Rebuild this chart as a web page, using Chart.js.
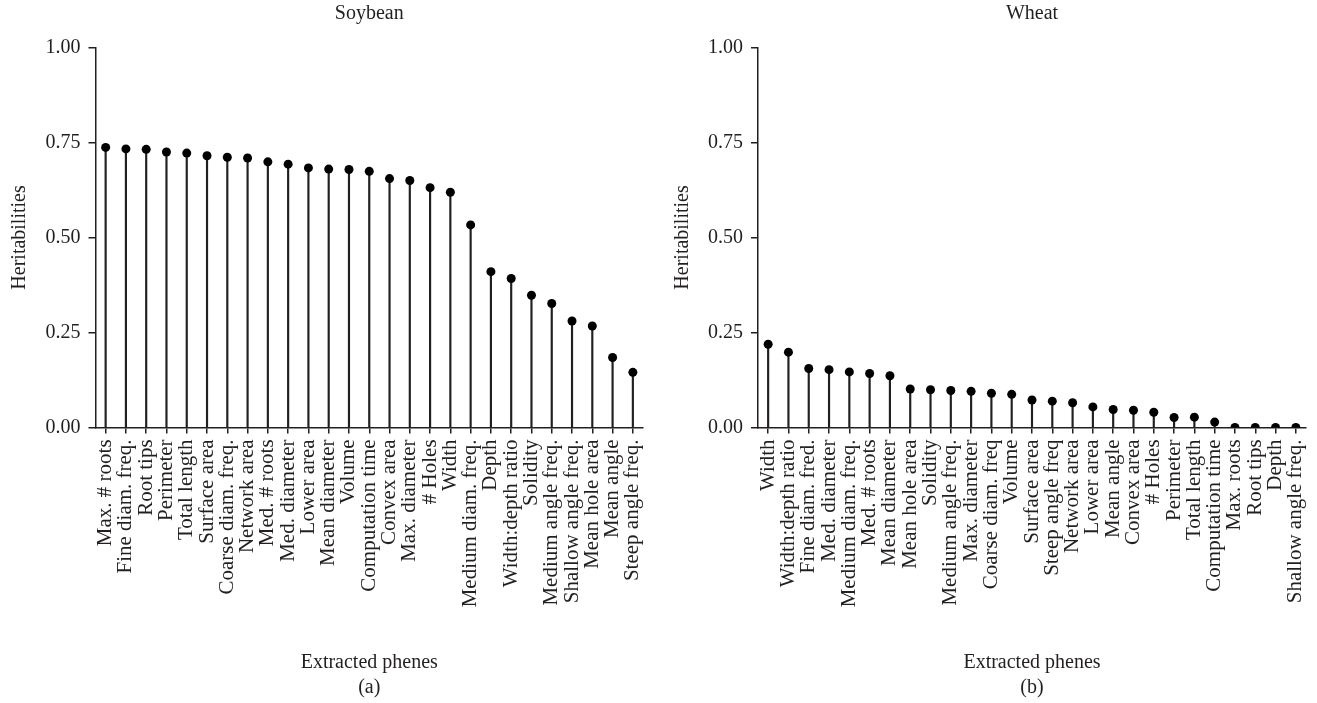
<!DOCTYPE html>
<html>
<head>
<meta charset="utf-8">
<title>Heritabilities of extracted phenes</title>
<script src="https://cdn.jsdelivr.net/npm/chart.js@4.4.0/dist/chart.umd.min.js"></script>
<style>
  html, body { margin: 0; padding: 0; background: #ffffff; }
  #wrap { position: relative; width: 1317px; height: 703px; overflow: hidden; }
  canvas { position: absolute; top: 0; }
  #soy { left: 0; }
  #wheat { left: 660px; }
</style>
</head>
<body>
<div id="wrap">
  <canvas id="soy" width="660" height="703"></canvas>
  <canvas id="wheat" width="657" height="703"></canvas>
</div>
<script>
// Soybean phenes, sorted by heritability
const soyPhenes = [
  "Max. # roots", "Fine diam. freq.", "Root tips", "Perimeter", "Total length",
  "Surface area", "Coarse diam. freq.", "Network area", "Med. # roots", "Med. diameter",
  "Lower area", "Mean diameter", "Volume", "Computation time", "Convex area",
  "Max. diameter", "# Holes", "Width", "Medium diam. freq.", "Depth",
  "Width:depth ratio", "Solidity", "Medium angle freq.", "Shallow angle freq.",
  "Mean hole area", "Mean angle", "Steep angle freq."
];
const soyHeritability = [
  0.737, 0.733, 0.732, 0.725, 0.722, 0.715, 0.711, 0.709, 0.699, 0.693,
  0.683, 0.680, 0.679, 0.674, 0.655, 0.650, 0.631, 0.619, 0.533, 0.410,
  0.392, 0.348, 0.326, 0.280, 0.267, 0.184, 0.145
];

// Wheat phenes, sorted by heritability
const wheatPhenes = [
  "Width", "Width:depth ratio", "Fine diam. fred.", "Med. diameter", "Medium diam. freq.",
  "Med. # roots", "Mean diameter", "Mean hole area", "Solidity", "Medium angle freq.",
  "Max. diameter", "Coarse diam. freq", "Volume", "Surface area", "Steep angle freq",
  "Network area", "Lower area", "Mean angle", "Convex area", "# Holes",
  "Perimeter", "Total length", "Computation time", "Max. roots", "Root tips",
  "Depth", "Shallow angle freq."
];
const wheatHeritability = [
  0.219, 0.198, 0.155, 0.152, 0.146, 0.142, 0.136, 0.101, 0.099, 0.097,
  0.095, 0.090, 0.087, 0.072, 0.069, 0.065, 0.054, 0.047, 0.045, 0.040,
  0.026, 0.027, 0.014, 0.000, 0.000, 0.000, 0.000
];

// Shared y-axis tick values
const heritabilityTicks = [0, 0.25, 0.5, 0.75, 1];

const INK = "#231f20";
const FAMILY = "'Liberation Serif', 'DejaVu Serif', serif";
const FONT = { family: FAMILY, size: 20, lineHeight: 1.2, weight: "normal" };
const LABEL_FONT = { family: FAMILY, size: 21, lineHeight: 1.2, weight: "normal" };
const CANVAS_H = 703;
const PLOT_BOTTOM = 427.4;

Chart.defaults.font.family = FAMILY;
Chart.defaults.color = INK;

function lollipop(canvasId, cropName, phenes, values, panel, yAxisWidth, padRight, yTitlePad) {
  return new Chart(document.getElementById(canvasId), {
    type: "bar",
    data: {
      labels: phenes,
      datasets: [
        {
          // dots at each heritability value
          type: "line",
          data: values,
          showLine: false,
          pointRadius: 4.5,
          pointHoverRadius: 4.5,
          pointBackgroundColor: "#000000",
          pointBorderWidth: 0,
          order: 0
        },
        {
          // stems from zero up to each dot
          type: "bar",
          data: values,
          backgroundColor: INK,
          barThickness: 1.5,
          order: 1
        }
      ]
    },
    options: {
      responsive: false,
      devicePixelRatio: 1,
      animation: false,
      layout: { padding: { left: 0, right: padRight, top: 0, bottom: 0 } },
      plugins: {
        legend: { display: false },
        tooltip: { enabled: false },
        title: {
          display: true,
          text: cropName,
          fullSize: false,
          color: INK,
          font: FONT,
          padding: { top: 2, bottom: 21.5 }
        }
      },
      scales: {
        x: {
          type: "category",
          offset: true,
          afterFit: (scale) => {
            scale.height = CANVAS_H - PLOT_BOTTOM;
            // plot edges are set by the layout padding alone
            scale.paddingLeft = 0;
            scale.paddingRight = 0;
          },
          border: { display: true, color: INK, width: 1.5 },
          grid: {
            offset: false,
            drawOnChartArea: false,
            drawTicks: true,
            tickLength: 6,
            tickColor: INK,
            lineWidth: 1.5
          },
          ticks: {
            autoSkip: false,
            minRotation: 90,
            maxRotation: 90,
            padding: 6,
            color: INK,
            font: LABEL_FONT
          },
          title: {
            display: true,
            text: ["Extracted phenes", panel],
            color: INK,
            font: { family: FAMILY, size: 20, lineHeight: 1.25, weight: "normal" },
            padding: { top: 0, bottom: 2.5 }
          }
        },
        y: {
          min: 0,
          max: 1,
          afterFit: (scale) => { scale.width = yAxisWidth; },
          afterBuildTicks: (scale) => {
            scale.ticks = heritabilityTicks.map((v) => ({ value: v }));
          },
          border: { display: true, color: INK, width: 1.5 },
          grid: {
            drawOnChartArea: false,
            drawTicks: true,
            tickLength: 7,
            tickColor: INK,
            lineWidth: 1.5
          },
          ticks: {
            padding: 8,
            color: INK,
            font: FONT,
            callback: (v) => Number(v).toFixed(2)
          },
          title: {
            display: true,
            text: "Heritabilities",
            color: INK,
            font: FONT,
            padding: { top: yTitlePad, bottom: 0 }
          }
        }
      }
    }
  });
}

lollipop("soy", "Soybean", soyPhenes, soyHeritability, "(a)", 95.5, 17, 8);
lollipop("wheat", "Wheat", wheatPhenes, wheatHeritability, "(b)", 98, 11, 11);
</script>
</body>
</html>
